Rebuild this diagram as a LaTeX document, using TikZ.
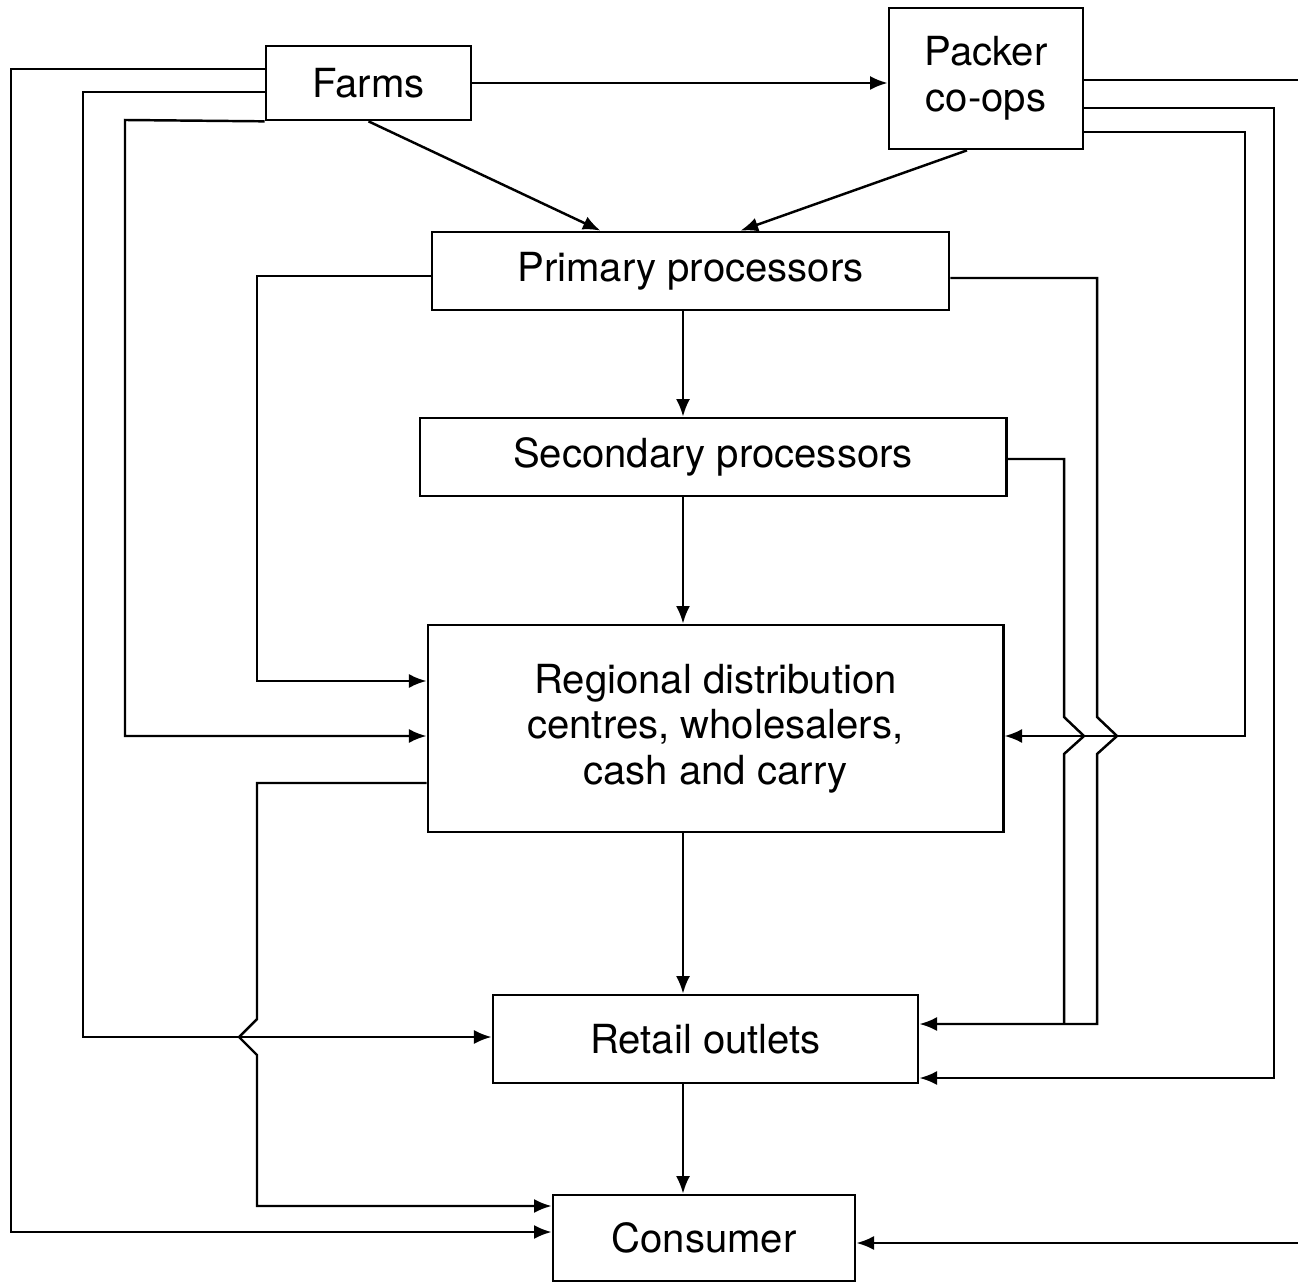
\documentclass[tikz,border=0pt]{standalone}
\usepackage{fontspec}
\setmainfont{TeX Gyre Heros}
\usetikzlibrary{arrows.meta, positioning, calc}

\tikzset{
  unit/.style={draw, line width=0.75pt, align=center, inner sep=0pt,
               font=\fontsize{11.4}{13}\selectfont},
  flow/.style={line width=0.7pt, -{Latex[length=5pt, width=4pt]}},
  link/.style={line width=0.7pt}
}

\begin{document}
\begin{tikzpicture}[x=0.01cm, y=-0.01cm]
    \useasboundingbox (0,0) rectangle (1298,1283);
    % boxes of the supply chain
    \node[unit, minimum width=2.05cm, minimum height=0.74cm] (farms)     at (368.5,83)   {Farms};
    \node[unit, minimum width=1.94cm, minimum height=1.41cm] (packer)    at (986,78.5)   {Packer\\co-ops};
    \node[unit, minimum width=5.17cm, minimum height=0.78cm] (primary)   at (690.5,271)  {Primary processors};
    \node[unit, minimum width=5.86cm, minimum height=0.78cm] (secondary) at (713,457)    {Secondary processors};
    \node[unit, minimum width=5.75cm, minimum height=2.07cm] (regional)  at (715.5,728.5)
          {Regional distribution\\centres, wholesalers,\\cash and carry};
    \node[unit, minimum width=4.25cm, minimum height=0.88cm] (retail)    at (705.5,1039) {Retail outlets};
    \node[unit, minimum width=3.02cm, minimum height=0.86cm] (consumer)  at (704,1238)   {Consumer};
    % free ends at the right margin
    \coordinate (rimtop) at (1298,80);
    \coordinate (rimbot) at (1298,1243);
    % main chain
    \draw[flow] (farms.east) -- (packer.west |- farms.east);
    \draw[flow] (farms.south) -- ([xshift=-0.9cm]primary.north);
    \draw[flow] ([xshift=-0.19cm]packer.south) -- ([xshift=0.5cm]primary.north);
    \draw[flow] (primary.south -| 683,0) -- (secondary.north -| 683,0);
    \draw[flow] (secondary.south -| 683,0) -- (regional.north -| 683,0);
    \draw[flow] (regional.south -| 683,0) -- (retail.north -| 683,0);
    \draw[flow] (retail.south -| 683,0) -- (consumer.north -| 683,0);
    % left side bypasses
    \draw[flow] (farms.west |- 0,69) -- (11,69) |- (consumer.west |- 0,1232);
    \draw[flow] (farms.west |- 0,92) -- (83,92) |- (retail.west |- 0,1037);
    \draw[flow] (farms.south west) -- (125,120) |- (regional.west |- 0,736);
    \draw[flow] (primary.west |- 0,276) -- (257,276) |- (regional.west |- 0,681);
    \draw[flow] (regional.west |- 0,783) -- (257,783) -- (257,1019) -- (239,1037)
          -- (257,1055) |- (consumer.west |- 0,1206);
    % right side bypasses
    \draw[flow] (primary.east |- 0,278) -- (1097,278) -- (1097,717) -- (1117,736)
          -- (1097,754) |- (retail.east |- 0,1024);
    \draw[link] (secondary.east |- 0,459) -- (1064,459) -- (1064,717) -- (1084,736)
          -- (1064,754) -- (1064,1024);
    \draw[flow] (packer.east |- 0,132) -- (1245,132) |- (regional.east |- 0,736);
    \draw[flow] (packer.east |- 0,108) -- (1274,108) |- (retail.east |- 0,1078);
    \draw[link] (packer.east |- 0,80) -- (rimtop);
    \draw[flow] (rimbot) -- (consumer.east |- 0,1243);
\end{tikzpicture}
\end{document}
